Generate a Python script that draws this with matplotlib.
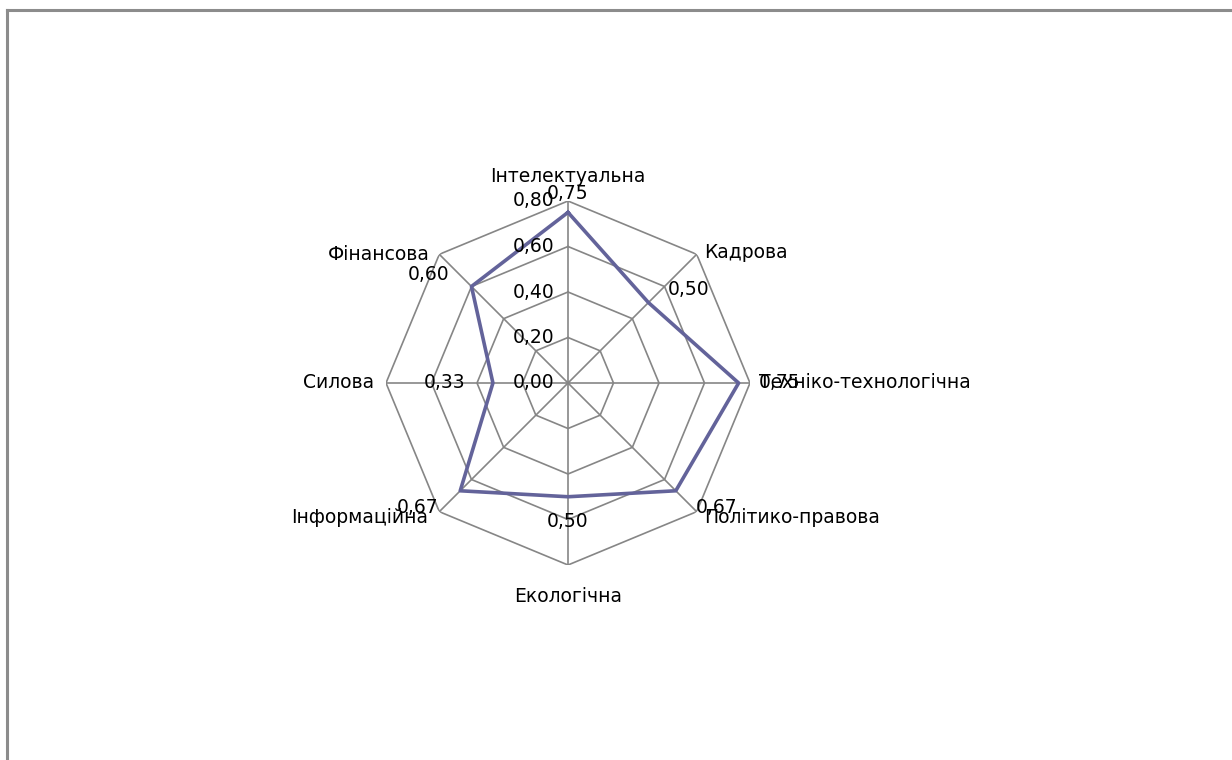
import numpy as np
import matplotlib
matplotlib.use('Agg')
import matplotlib.pyplot as plt
from matplotlib.lines import Line2D

######## data ########

categories = ['Інтелектуальна', 'Кадрова', 'Техніко-технологічна', 'Політико-правова',
              'Екологічна', 'Інформаційна', 'Силова', 'Фінансова']
values = [0.75, 0.50, 0.75, 0.67, 0.50, 0.67, 0.33, 0.60]
rings = [0.0, 0.2, 0.4, 0.6, 0.8]
ring_labels = ['0,00', '0,20', '0,40', '0,60', '0,80']

######## plot settings ########

plt.rcParams['font.family'] = ['DejaVu Sans']
fsize = 13.5
grid_col = '#868686'
line_col = '#63639a'

W, H = 1232, 760
fig = plt.figure(figsize=(W/100, H/100), dpi=100)

# outer chart frame (only top and left edges are visible)
fig.add_artist(Line2D([7/W, 1], [1-10/H, 1-10/H], color='#8c8c8c', lw=2.2))
fig.add_artist(Line2D([7/W, 7/W], [0, 1-10/H], color='#8c8c8c', lw=2.2))

cx, cy, R = 568, 383, 182
ax = fig.add_axes([(cx-R)/W, (H-cy-R)/H, 2*R/W, 2*R/H], projection='polar')
ax.set_theta_offset(np.pi/2)
ax.set_theta_direction(-1)
ax.set_ylim(0, 0.8)
ax.axis('off')

n = len(categories)
angles = np.arange(n) * 2*np.pi/n
closed = np.append(angles, angles[0])

# octagon rings
for r in rings[1:]:
    ax.plot(closed, [r]*(n+1), color=grid_col, lw=1.2, zorder=1)
# spokes
for a in angles:
    ax.plot([a, a], [0, 0.8], color=grid_col, lw=1.2, zorder=1)

# data series
ax.plot(closed, values + values[:1], color=line_col, lw=2.6, zorder=3)

# radial tick labels
for r, lab in zip(rings, ring_labels):
    ax.annotate(lab, (0, r), xytext=(-14, 0), textcoords='offset pixels',
                ha='right', va='center', fontsize=fsize, zorder=4)

# category labels
cat_off = [(0, 25, 'center'), (7, 2, 'left'), (9, 0, 'left'), (7, -6, 'left'),
           (0, -32, 'center'), (-11, -6, 'right'), (-12, 0, 'right'), (-10, 0, 'right')]
for a, cat, (dx, dy, ha) in zip(angles, categories, cat_off):
    ax.annotate(cat, (a, 0.8), xytext=(dx, dy), textcoords='offset pixels',
                ha=ha, va='center', fontsize=fsize, zorder=4, annotation_clip=False)

# data labels
val_off = [(0, 19, 'center'), (19, 13, 'left'), (20, 0, 'left'), (20, -17, 'left'),
           (0, -25, 'center'), (-22, -17, 'right'), (-28, 0, 'right'), (-22, 12, 'right')]
for a, v, (dx, dy, ha) in zip(angles, values, val_off):
    ax.annotate(f'{v:.2f}'.replace('.', ','), (a, v), xytext=(dx, dy),
                textcoords='offset pixels', ha=ha, va='center', fontsize=fsize,
                zorder=5, annotation_clip=False)

plt.savefig('out.png', dpi=100)
